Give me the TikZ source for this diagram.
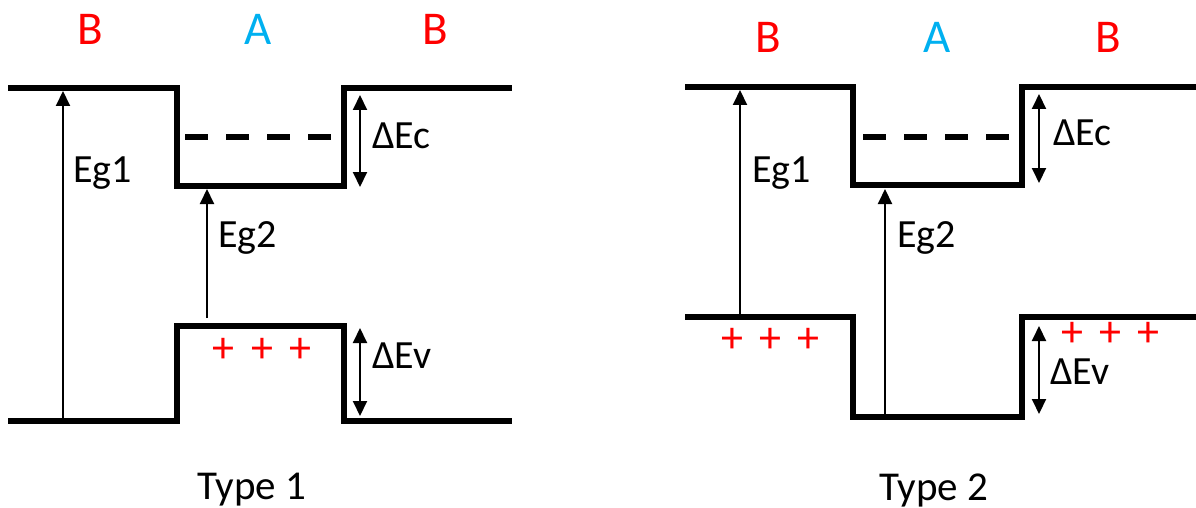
\documentclass[tikz,border=0pt]{standalone}
\usepackage{fontspec}
\setmainfont{Carlito}
\usetikzlibrary{arrows.meta}
\definecolor{regred}{RGB}{255,0,0}
\definecolor{regblue}{RGB}{0,176,240}
\begin{document}
\begin{tikzpicture}[x=1pt,y=-1pt,
  band/.style={line width=5.5pt},
  dashband/.style={line width=5.5pt,dash pattern=on 23pt off 18pt},
  garrow/.style={line width=2pt,-{Triangle[length=15pt,width=14pt]}},
  darrow/.style={line width=2pt,{Triangle[length=15pt,width=14pt]}-{Triangle[length=15pt,width=14pt]}},
  lbl/.style={font=\fontsize{40}{44}\selectfont,anchor=base west,inner sep=0pt},
  region/.style={font=\fontsize{47}{50}\selectfont,anchor=base,inner sep=0pt},
  plus/.style={text=regred,font=\fontsize{44}{44}\selectfont,inner sep=-2pt},
  caption/.style={font=\fontsize{41}{44}\selectfont,anchor=base,inner sep=0pt}]
\useasboundingbox (0,0) rectangle (1196,508);

% ---------- Type 1 ----------
\coordinate (c1a) at (8,88);   \coordinate (c1b) at (177,88);
\coordinate (c1c) at (177,186); \coordinate (c1d) at (344,186);
\coordinate (c1e) at (344,88);  \coordinate (c1f) at (512,88);
\coordinate (v1a) at (8,421);   \coordinate (v1b) at (177,421);
\coordinate (v1c) at (177,326); \coordinate (v1d) at (344,326);
\coordinate (v1e) at (344,421); \coordinate (v1f) at (512,421);
\coordinate (d1a) at (185,137); \coordinate (d1b) at (334,137);
\draw[band] (c1a) -- (c1b) -- (c1c) -- (c1d) -- (c1e) -- (c1f);
\draw[band] (v1a) -- (v1b) -- (v1c) -- (v1d) -- (v1e) -- (v1f);
\draw[dashband] (d1a) -- (d1b);

\coordinate (e1s) at (63,418);  \coordinate (e1t) at (63,91);
\coordinate (e2s) at (207,318); \coordinate (e2t) at (207,189);
\coordinate (ec1s) at (360,95); \coordinate (ec1t) at (360,187);
\coordinate (ev1s) at (360,328); \coordinate (ev1t) at (360,416);
\draw[garrow] (e1s) -- (e1t);
\draw[garrow] (e2s) -- (e2t);
\draw[darrow] (ec1s) -- (ec1t);
\draw[darrow] (ev1s) -- (ev1t);

\node[lbl] (leg1a) at (73,182) {Eg1};
\node[lbl] (leg2a) at (218,247) {Eg2};
\node[lbl] (ldeca) at (372,149) {ΔEc};
\node[lbl] (ldeva) at (372,368) {ΔEv};

\node[region,text=regred] (b1l) at (90,45) {B};
\node[region,text=regblue] (a1) at (258,45) {A};
\node[region,text=regred] (b1r) at (435,45) {B};

\node[plus] (p1a) at (223,350) {+};
\node[plus] (p1b) at (262,350) {+};
\node[plus] (p1c) at (300,350) {+};

\node[caption] (cap1) at (252,499) {Type 1};

% ---------- Type 2 ----------
\coordinate (c2a) at (685,87);   \coordinate (c2b) at (853,87);
\coordinate (c2c) at (853,185);  \coordinate (c2d) at (1022,185);
\coordinate (c2e) at (1022,87);  \coordinate (c2f) at (1196,87);
\coordinate (v2a) at (685,317);  \coordinate (v2b) at (853,317);
\coordinate (v2c) at (853,417);  \coordinate (v2d) at (1022,417);
\coordinate (v2e) at (1022,317); \coordinate (v2f) at (1196,317);
\coordinate (d2a) at (863,137);  \coordinate (d2b) at (1012,137);
\draw[band] (c2a) -- (c2b) -- (c2c) -- (c2d) -- (c2e) -- (c2f);
\draw[band] (v2a) -- (v2b) -- (v2c) -- (v2d) -- (v2e) -- (v2f);
\draw[dashband] (d2a) -- (d2b);

\coordinate (f1s) at (740,314);  \coordinate (f1t) at (740,90);
\coordinate (f2s) at (885,415);  \coordinate (f2t) at (885,189);
\coordinate (ec2s) at (1039,94); \coordinate (ec2t) at (1039,183);
\coordinate (ev2s) at (1039,326); \coordinate (ev2t) at (1039,414);
\draw[garrow] (f1s) -- (f1t);
\draw[garrow] (f2s) -- (f2t);
\draw[darrow] (ec2s) -- (ec2t);
\draw[darrow] (ev2s) -- (ev2t);

\node[lbl] (leg1b) at (752,182) {Eg1};
\node[lbl] (leg2b) at (897,247) {Eg2};
\node[lbl] (ldecb) at (1053,146) {ΔEc};
\node[lbl] (ldevb) at (1050,384) {ΔEv};

\node[region,text=regred] (b2l) at (768,53) {B};
\node[region,text=regblue] (a2) at (937,53) {A};
\node[region,text=regred] (b2r) at (1108,53) {B};

\node[plus] (p2a) at (732,340) {+};
\node[plus] (p2b) at (770,340) {+};
\node[plus] (p2c) at (808,340) {+};
\node[plus] (p2d) at (1072,334) {+};
\node[plus] (p2e) at (1110,334) {+};
\node[plus] (p2f) at (1148,334) {+};

\node[caption] (cap2) at (934,500) {Type 2};
\end{tikzpicture}
\end{document}
